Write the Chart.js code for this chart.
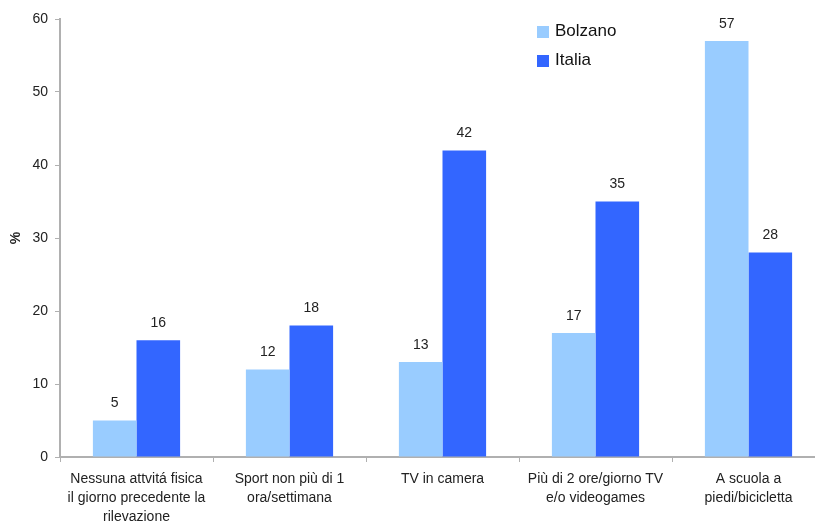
<!DOCTYPE html>
<html>
<head>
<meta charset="utf-8">
<script src="https://cdn.jsdelivr.net/npm/chart.js@4"></script>
<style>
  html, body { margin: 0; padding: 0; background: #fff; overflow: hidden; }
  #wrap { width: 830px; height: 521px; }
</style>
</head>
<body>
<div id="wrap"><canvas id="chart"></canvas></div>
<script>
// categorie e valori (%)
const categories = [
    ["Nessuna attvitá fisica", "il giorno precedente la", "rilevazione"],
    ["Sport non più di 1", "ora/settimana"],
    "TV in camera",
    ["Più di 2 ore/giorno TV", "e/o videogames"],
    ["A scuola a", "piedi/bicicletta"]
];
const bolzano = [5, 12, 13, 17, 57];
const italia = [16, 18, 42, 35, 28];
const yTicks = [0, 10, 20, 30, 40, 50, 60];

const FONT = "'Liberation Sans', Arial, sans-serif";

// etichette sopra le barre
const valueLabels = {
    id: 'valueLabels',
    afterDatasetsDraw(chart) {
        const ctx = chart.ctx;
        ctx.save();
        ctx.font = '14px ' + FONT;
        ctx.fillStyle = '#222';
        ctx.textAlign = 'center';
        ctx.textBaseline = 'middle';
        chart.data.datasets.forEach((ds, i) => {
            chart.getDatasetMeta(i).data.forEach((bar, j) => {
                ctx.fillText(ds.data[j], bar.x, bar.y - 17);
            });
        });
        ctx.restore();
    }
};

// legenda dentro l'area del grafico
const innerLegend = {
    id: 'innerLegend',
    afterDraw(chart) {
        const ctx = chart.ctx;
        ctx.save();
        ctx.font = '17px ' + FONT;
        ctx.textBaseline = 'middle';
        chart.data.datasets.forEach((ds, i) => {
            const y = 31 + i * 29;
            ctx.fillStyle = ds.backgroundColor;
            ctx.fillRect(537, y - 5, 12, 12);
            ctx.fillStyle = '#111';
            ctx.fillText(ds.label, 555, y);
        });
        ctx.restore();
    }
};

new Chart(document.getElementById('chart'), {
    type: 'bar',
    data: {
        labels: categories,
        datasets: [
            { label: 'Bolzano', data: bolzano, backgroundColor: '#99CCFF' },
            { label: 'Italia', data: italia, backgroundColor: '#3366FF' }
        ]
    },
    options: {
        responsive: true,
        maintainAspectRatio: false,
        animation: false,
        categoryPercentage: 0.57,
        barPercentage: 1,
        layout: { padding: { top: 19, right: 5, left: 0, bottom: 0 } },
        plugins: { legend: { display: false }, tooltip: { enabled: false } },
        scales: {
            x: {
                grid: { display: true, drawOnChartArea: false, offset: true, color: '#b0b0b0', tickLength: 5 },
                border: { color: '#b0b0b0', width: 2 },
                ticks: { color: '#222', font: { family: FONT, size: 14, lineHeight: 1.35 }, padding: 8, maxRotation: 0, autoSkip: false },
                afterFit(scale) { scale.height = 64; }
            },
            y: {
                min: 0, max: 60,
                afterBuildTicks(scale) { scale.ticks = yTicks.map(v => ({ value: v })); },
                grid: { display: true, drawOnChartArea: false, color: '#b0b0b0', tickLength: 5 },
                border: { color: '#b0b0b0', width: 2 },
                ticks: { color: '#222', font: { family: FONT, size: 14 }, padding: 7 },
                title: { display: true, text: '%', color: '#222', font: { family: FONT, size: 14, weight: 'bold' }, padding: { top: 8, bottom: 0 } },
                afterFit(scale) { scale.width = 60; }
            }
        }
    },
    plugins: [valueLabels, innerLegend]
});
</script>
</body>
</html>
